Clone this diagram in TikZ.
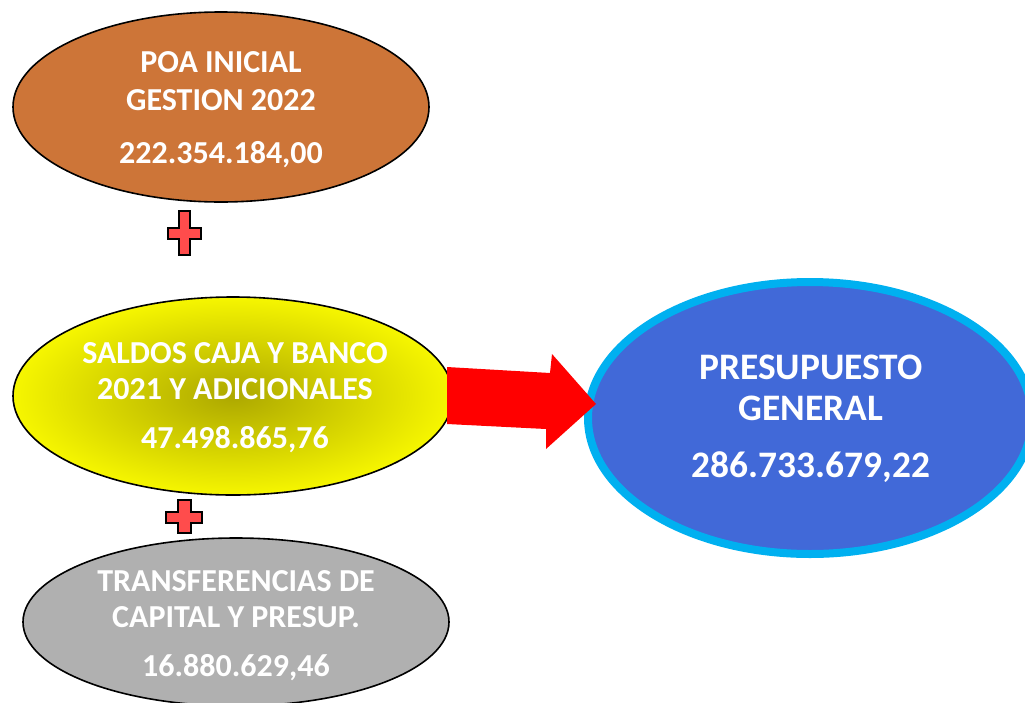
\documentclass[tikz,border=0pt]{standalone}
\usepackage{fontspec}
\setmainfont{Carlito}
\usetikzlibrary{shapes.geometric}
\definecolor{poaC}{HTML}{CD7538}
\definecolor{yelOut}{HTML}{F6F600}
\definecolor{yelIn}{HTML}{ADA800}
\definecolor{grayC}{HTML}{B0B0B0}
\definecolor{blueC}{HTML}{4169D8}
\definecolor{cyanC}{HTML}{00B0F0}
\definecolor{plusC}{HTML}{FF4C4C}
\tikzset{
  oval/.style={ellipse, inner sep=0pt, draw=black, line width=1.6pt},
  lbl/.style={anchor=base, text=white, font=\bfseries\fontsize{32}{32}\selectfont, inner sep=0pt},
  biglbl/.style={anchor=base, text=white, font=\bfseries\fontsize{37.4}{37.4}\selectfont, inner sep=0pt},
  plusmark/.style={fill=plusC, draw=black, line width=1.6pt, line join=miter}
}
\begin{document}
\begin{tikzpicture}[x=1pt, y=-1pt]
\useasboundingbox (0,0) rectangle (1025,702);
% ellipses
\node[oval, fill=poaC, minimum width=416pt, minimum height=190pt] (poa) at (221,107) {};
\node[oval, inner color=yelIn, outer color=yelOut, minimum width=440pt, minimum height=198pt] (saldos) at (233,396) {};
\node[oval, fill=grayC, minimum width=426pt, minimum height=168pt] (trans) at (236,622) {};
\node[ellipse, inner sep=0pt, fill=blueC, draw=cyanC, line width=8pt, minimum width=444pt, minimum height=272pt] (pres) at (810,418) {};
% texts
\node[lbl] (t1a) at (221,72) {POA INICIAL};
\node[lbl] (t1b) at (221,110) {GESTION 2022};
\node[lbl] (t1c) at (221,163) {222.354.184,00};
\node[lbl] (t2a) at (235,363) {SALDOS CAJA Y BANCO};
\node[lbl] (t2b) at (235,399) {2021 Y ADICIONALES};
\node[lbl] (t2c) at (235,448) {47.498.865,76};
\node[lbl] (t3a) at (236,591) {TRANSFERENCIAS DE};
\node[lbl] (t3b) at (236,627) {CAPITAL Y PRESUP.};
\node[lbl] (t3c) at (236,676) {16.880.629,46};
\node[biglbl] (t4a) at (811,379) {PRESUPUESTO};
\node[biglbl] (t4b) at (811,420) {GENERAL};
\node[biglbl] (t4c) at (811,477) {286.733.679,22};
% block arrow
\coordinate (arrS) at (447,396);
\coordinate (arrT) at (596,404);
\fill[red] (447,367) -- (550,373) -- (552,354) -- (arrT) -- (546,449) -- (546,429) -- (447,424) -- cycle;
% plus signs
\draw[plusmark] (179,211) -- (190,211) -- (190,228) -- (201,228) -- (201,239) -- (190,239) -- (190,255) -- (179,255) -- (179,239) -- (168,239) -- (168,228) -- (179,228) -- cycle;
\draw[plusmark] (178,500) -- (191,500) -- (191,512) -- (202,512) -- (202,523) -- (191,523) -- (191,533) -- (178,533) -- (178,523) -- (166,523) -- (166,512) -- (178,512) -- cycle;
\end{tikzpicture}
\end{document}
